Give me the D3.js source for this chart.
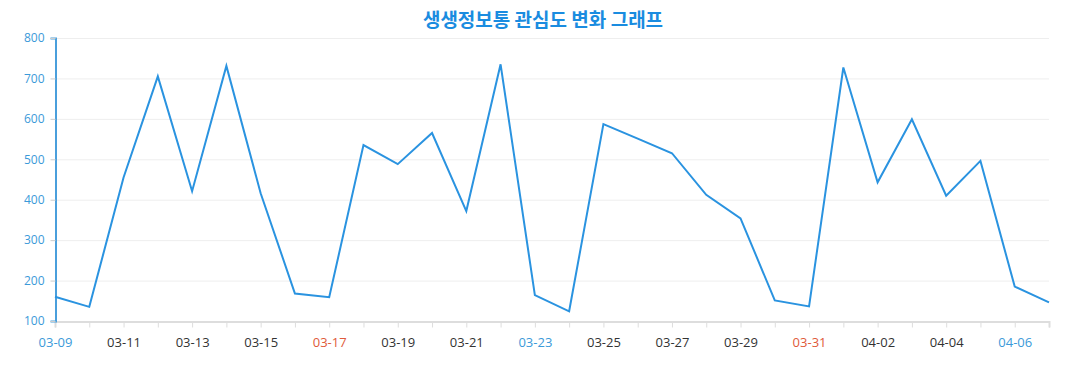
<!DOCTYPE html>
<html>
<head>
<meta charset="utf-8">
<script src="https://cdn.jsdelivr.net/npm/d3@7"></script>
<style>
	body { margin: 0; background: #fff; }
	svg text { font-family: "Open Sans", "Noto Sans", sans-serif; }
</style>
</head>
<body>
<svg id="chart" width="1077" height="390"></svg>
<script>
var title = "생생정보통 관심도 변화 그래프";
var dates = ["03-09","03-10","03-11","03-12","03-13","03-14","03-15","03-16","03-17","03-18",
	"03-19","03-20","03-21","03-22","03-23","03-24","03-25","03-26","03-27","03-28",
	"03-29","03-30","03-31","04-01","04-02","04-03","04-04","04-05","04-06","04-07"];
var values = [160, 135, 455, 705, 421, 731, 416, 168, 159, 535,
	488, 565, 372, 735, 164, 124, 587, 551, 515, 412,
	354, 151, 136, 727, 443, 599, 410, 496, 185, 146];
var yTicks = [100, 200, 300, 400, 500, 600, 700, 800];
var blueDays = ["03-09", "03-23", "04-06"];
var redDays = ["03-17", "03-31"];

var svg = d3.select("#chart");
var margin = { left: 55, right: 28, top: 38, bottom: 69 };
var width = 1077, height = 390;

var x = d3.scalePoint()
	.domain(dates)
	.range([margin.left, width - margin.right]);

var y = d3.scaleLinear()
	.domain([100, 800])
	.range([height - margin.bottom, margin.top]);

// Title
svg.append("text")
	.attr("x", 543)
	.attr("y", 27)
	.attr("text-anchor", "middle")
	.style("font-family", "'Noto Sans CJK KR', sans-serif")
	.style("font-weight", "bold")
	.style("font-size", "19px")
	.style("fill", "#1a8ce0")
	.text(title);

// Grid lines
svg.append("g")
	.selectAll("line")
	.data(yTicks)
	.enter()
	.append("line")
	.attr("x1", margin.left)
	.attr("x2", width - margin.right)
	.attr("y1", function(d) { return y(d) + 0.5; })
	.attr("y2", function(d) { return y(d) + 0.5; })
	.style("stroke", "#eeeeee")
	.style("stroke-width", 1);

// X axis
var xAxis = svg.append("g")
	.attr("transform", "translate(0," + (y(100) + 0.5) + ")")
	.call(d3.axisBottom(x).tickSize(6).tickPadding(10).tickFormat(function(d, i) {
		return i % 2 === 0 ? d : "";
	}));
xAxis.select(".domain").style("stroke", "#dddddd").style("stroke-width", 2);
xAxis.selectAll(".tick line").style("stroke", "#dddddd");
xAxis.selectAll(".tick text")
	.style("font-size", "13px")
	.style("fill", function(d) {
		if (blueDays.indexOf(d) > -1) return "#3b9ad9";
		if (redDays.indexOf(d) > -1) return "#e05a3a";
		return "#333333";
	});

// Y axis
var yAxis = svg.append("g")
	.attr("transform", "translate(" + (margin.left + 0.5) + ",0)")
	.call(d3.axisLeft(y).tickValues(yTicks).tickSize(5).tickPadding(6));
yAxis.select(".domain").style("stroke", "#4a9fdc").style("stroke-width", 2);
yAxis.selectAll(".tick line").style("stroke", "#cccccc");
yAxis.selectAll(".tick text")
	.style("font-size", "12px")
	.style("fill", "#3b9ad9");

// Line
var line = d3.line()
	.x(function(d, i) { return x(dates[i]); })
	.y(function(d) { return y(d); });

svg.append("path")
	.datum(values)
	.attr("d", line)
	.style("fill", "none")
	.style("stroke", "#2a93e0")
	.style("stroke-width", 2)
	.style("stroke-linejoin", "miter");
</script>
</body>
</html>
